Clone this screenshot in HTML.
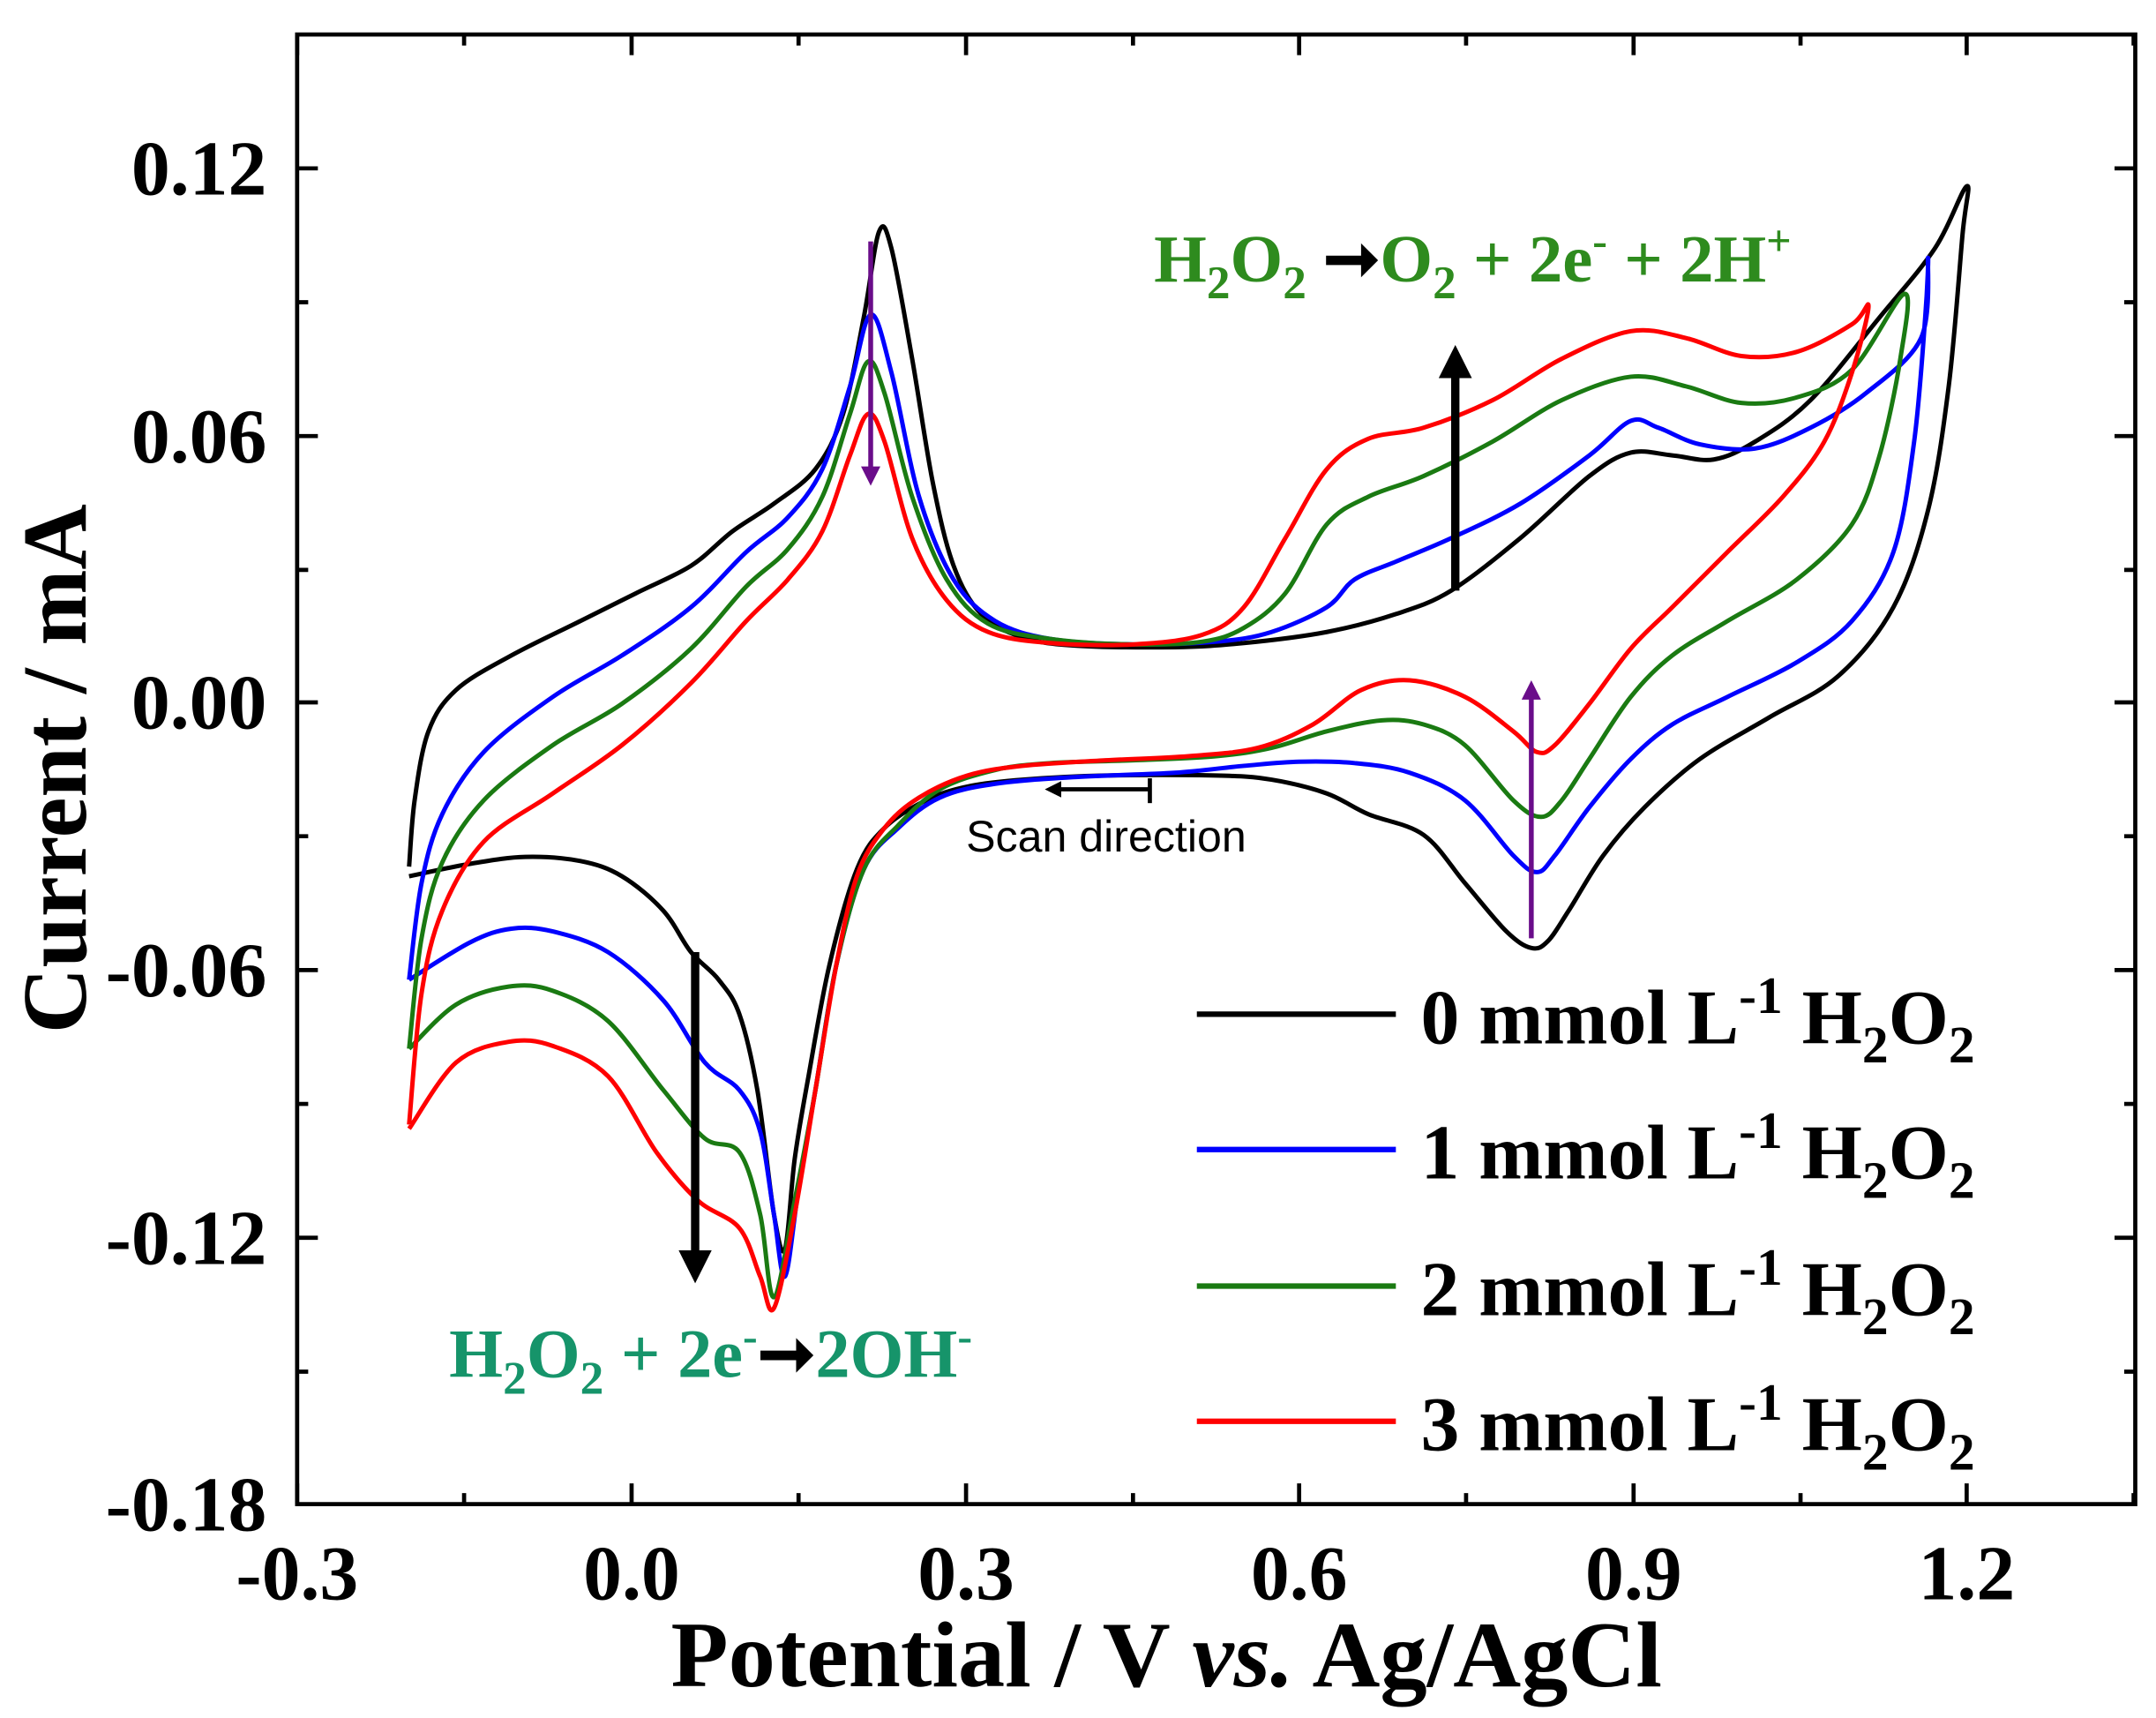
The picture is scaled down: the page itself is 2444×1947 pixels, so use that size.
<!DOCTYPE html>
<html><head><meta charset="utf-8"><style>
html,body{margin:0;padding:0;background:#fff;}
svg{display:block;}
text{font-family:"Liberation Serif",serif;font-weight:bold;}
</style></head><body>
<svg id="s" width="2444" height="1947" viewBox="0 0 1560 1245" preserveAspectRatio="none" xmlns="http://www.w3.org/2000/svg">
<defs>
<marker id="ab" markerWidth="4" markerHeight="4" refX="2" refY="2" orient="auto" markerUnits="strokeWidth"><path d="M0,0 L4,2 L0,4 Z" fill="#000"/></marker>
<marker id="ap" markerWidth="4" markerHeight="4" refX="2" refY="2" orient="auto" markerUnits="strokeWidth"><path d="M0,0 L4,2 L0,4 Z" fill="#6a0d8a"/></marker>
</defs>
<g id="curves" fill="none" stroke-width="3.2" stroke-linejoin="round"></g>
<rect x="215" y="25" width="1330" height="1065" fill="none" stroke="#000" stroke-width="3"/>
<g id="ticks" stroke="#000" stroke-width="3"></g>
<g font-size="56" text-anchor="end">
<text x="193" y="141">0.12</text><text x="193" y="335">0.06</text><text x="193" y="528">0.00</text>
<text x="193" y="722">-0.06</text><text x="193" y="916">-0.12</text><text x="193" y="1109">-0.18</text>
</g>
<g font-size="56" text-anchor="middle">
<text x="215" y="1159">-0.3</text><text x="457" y="1159">0.0</text><text x="699" y="1159">0.3</text>
<text x="940" y="1159">0.6</text><text x="1182" y="1159">0.9</text><text x="1423" y="1159">1.2</text>
</g>
<text x="844" y="1222" font-size="68" text-anchor="middle">Potential / V <tspan font-style="italic">vs.</tspan> Ag/AgCl</text>
<text transform="translate(62,557) rotate(-90)" font-size="66" text-anchor="middle">Current / mA</text>
<!-- arrows -->
<line x1="1053" y1="428" x2="1053" y2="262" stroke="#000" stroke-width="6" marker-end="url(#ab)"/>
<line x1="503" y1="690" x2="503" y2="918" stroke="#000" stroke-width="6" marker-end="url(#ab)"/>
<line x1="630" y1="175" x2="630" y2="345" stroke="#6a0d8a" stroke-width="3.5" marker-end="url(#ap)"/>
<line x1="1108" y1="680" x2="1108" y2="500" stroke="#6a0d8a" stroke-width="3.5" marker-end="url(#ap)"/>
<line x1="832" y1="572" x2="762" y2="572" stroke="#000" stroke-width="3" marker-end="url(#ab)"/>
<line x1="832" y1="564" x2="832" y2="582" stroke="#000" stroke-width="3"/>
<text x="699" y="617" font-size="32" style="font-family:'Liberation Sans',sans-serif;font-weight:normal">Scan direction</text>
<text x="835" y="204" font-size="49" fill="#2e8b1e">H<tspan font-size="34" dy="12">2</tspan><tspan dy="-12">O</tspan><tspan font-size="34" dy="12">2</tspan><tspan dy="-12" fill="#000"> ➞</tspan><tspan>O</tspan><tspan font-size="34" dy="12">2</tspan><tspan dy="-12"> + 2e</tspan><tspan font-size="32" dy="-19">-</tspan><tspan dy="19"> + 2H</tspan><tspan font-size="32" dy="-19">+</tspan></text>
<text x="325" y="998" font-size="50" fill="#16946a">H<tspan font-size="34" dy="12">2</tspan><tspan dy="-12">O</tspan><tspan font-size="34" dy="12">2</tspan><tspan dy="-12"> + 2e</tspan><tspan font-size="32" dy="-19">-</tspan><tspan dy="19" fill="#000">➞</tspan><tspan>2OH</tspan><tspan font-size="32" dy="-19">-</tspan></text>
<!-- legend -->
<g stroke-width="4">
<line x1="866" y1="735" x2="1010" y2="735" stroke="#000"/>
<line x1="866" y1="833" x2="1010" y2="833" stroke="#0000ff"/>
<line x1="866" y1="932" x2="1010" y2="932" stroke="#1a7a12"/>
<line x1="866" y1="1030" x2="1010" y2="1030" stroke="#ff0000"/>
</g>
<g font-size="56">
<text x="1028" y="756">0 mmol L<tspan font-size="38" dy="-22">-1</tspan><tspan dy="22"> H</tspan><tspan font-size="38" dy="14">2</tspan><tspan dy="-14">O</tspan><tspan font-size="38" dy="14">2</tspan></text>
<text x="1028" y="854">1 mmol L<tspan font-size="38" dy="-22">-1</tspan><tspan dy="22"> H</tspan><tspan font-size="38" dy="14">2</tspan><tspan dy="-14">O</tspan><tspan font-size="38" dy="14">2</tspan></text>
<text x="1028" y="953">2 mmol L<tspan font-size="38" dy="-22">-1</tspan><tspan dy="22"> H</tspan><tspan font-size="38" dy="14">2</tspan><tspan dy="-14">O</tspan><tspan font-size="38" dy="14">2</tspan></text>
<text x="1028" y="1051">3 mmol L<tspan font-size="38" dy="-22">-1</tspan><tspan dy="22"> H</tspan><tspan font-size="38" dy="14">2</tspan><tspan dy="-14">O</tspan><tspan font-size="38" dy="14">2</tspan></text>
</g>
</svg>
<script>
var NS="http://www.w3.org/2000/svg";
var t=document.getElementById("ticks"),d="";
var xs=[215,457,699,940,1182,1423];
for(var i=0;i<xs.length;i++){d+="M"+xs[i]+",1090v-15M"+xs[i]+",25v15";}
for(var i=0;i<xs.length;i++){var m=xs[i]+120.8;if(m<1545)d+="M"+m+",1090v-8M"+m+",25v8";}
var ys=[122,316,509,703,897];
for(var i=0;i<ys.length;i++){d+="M215,"+ys[i]+"h15M1545,"+ys[i]+"h-15";}
var ms=[219,413,606,800,994];
for(var i=0;i<ms.length;i++){d+="M215,"+ms[i]+"h8M1545,"+ms[i]+"h-8";}
var p=document.createElementNS(NS,"path");p.setAttribute("d",d);t.appendChild(p);
function cr(pts){var s="M"+pts[0][0]+","+pts[0][1];for(var i=0;i<pts.length-1;i++){var p0=pts[i-1]||pts[i],p1=pts[i],p2=pts[i+1],p3=pts[i+2]||p2;
s+="C"+(p1[0]+(p2[0]-p0[0])/6).toFixed(1)+","+(p1[1]+(p2[1]-p0[1])/6).toFixed(1)+" "+(p2[0]-(p3[0]-p1[0])/6).toFixed(1)+","+(p2[1]-(p3[1]-p1[1])/6).toFixed(1)+" "+p2[0]+","+p2[1];}return s;}
var C={
"#000":[[296,628],[300,580],[310,530],[330,500],[370,475],[420,450],[460,430],[500,410],[530,385],[560,365],[590,340],[610,300],[625,230],[636,168],[645,180],[660,260],[675,350],[690,410],[710,445],[740,462],[780,468],[850,469],[900,466],[960,458],[1010,445],[1050,428],[1100,390],[1150,345],[1180,328],[1210,330],[1240,333],[1270,320],[1310,290],[1360,230],[1400,180],[1423,135],[1420,170],[1410,280],[1395,370],[1370,440],[1330,490],[1280,520],[1230,550],[1190,585],[1160,620],[1135,660],[1120,682],[1108,687],[1090,675],[1060,640],[1030,605],[990,590],[960,575],[920,565],[880,562],[800,562],[740,565],[700,570],[670,580],[640,600],[620,630],[600,700],[585,780],[575,840],[568,905],[560,880],[548,790],[535,735],[520,710],[500,690],[480,660],[450,635],[420,624],[380,621],[340,626],[296,635]],
"#0000ff":[[296,710],[305,640],[320,590],[350,545],[400,505],[450,475],[500,440],[540,400],[570,375],[595,340],[615,280],[630,228],[645,270],[665,360],[690,420],[720,450],[760,463],[820,467],[880,465],[920,458],[960,440],[980,420],[1010,407],[1050,390],[1100,365],[1150,330],[1180,305],[1200,310],[1230,322],[1270,325],[1310,310],[1350,285],[1390,245],[1395,187],[1393,230],[1385,320],[1370,400],[1340,450],[1300,480],[1250,505],[1210,525],[1180,550],[1150,585],[1125,620],[1112,632],[1095,620],[1060,580],[1020,560],[980,553],[940,552],[900,555],[850,560],[780,563],[720,568],[680,578],[650,600],[625,630],[605,700],[590,790],[578,860],[568,925],[560,880],[550,820],[535,790],[510,770],[480,725],[440,690],[400,675],[370,673],[340,683],[296,710]],
"#1a7a12":[[296,760],[305,680],[320,625],[350,580],[400,540],[450,510],[500,470],[540,425],[570,398],[595,360],[615,300],[628,262],[640,285],[660,360],[685,420],[715,452],[760,463],[820,467],[870,465],[900,455],[930,430],[960,380],[990,360],[1030,345],[1080,320],[1130,290],[1180,273],[1220,280],[1260,292],[1300,288],[1340,268],[1378,213],[1375,260],[1360,330],[1340,380],[1300,420],[1250,450],[1210,475],[1180,505],[1150,550],[1130,580],[1115,592],[1095,580],[1060,540],[1030,525],[1000,522],[960,530],[920,542],[880,548],[820,551],[760,553],[720,558],[680,572],[650,598],[625,630],[605,700],[590,790],[575,870],[560,940],[550,880],[535,835],[510,825],[480,790],[440,740],[400,718],[368,715],[330,728],[296,760]],
"#ff0000":[[296,815],[305,720],[320,660],[350,610],[400,575],[450,540],[500,495],[540,450],[570,420],[595,385],[615,330],[628,300],[640,320],[660,390],[685,435],[715,458],[760,466],[820,467],[870,460],[900,440],[930,390],[960,340],[990,318],[1030,310],[1080,290],[1130,260],[1180,240],[1220,245],[1260,258],[1300,255],[1340,235],[1352,222],[1340,270],[1320,320],[1290,360],[1250,400],[1210,440],[1180,470],[1150,510],[1125,540],[1112,545],[1095,530],[1060,505],[1020,493],[985,500],[950,525],[910,542],[860,548],[800,551],[740,555],[700,562],[665,578],[640,600],[620,635],[605,700],[590,790],[575,880],[560,948],[550,925],[535,890],[505,870],[475,835],[440,780],[400,758],[368,755],[330,770],[296,818]]};
var g=document.getElementById("curves");
for(var k in C){var q=document.createElementNS(NS,"path");q.setAttribute("d",cr(C[k]));q.setAttribute("stroke",k);g.appendChild(q);}
</script>
</body></html>
